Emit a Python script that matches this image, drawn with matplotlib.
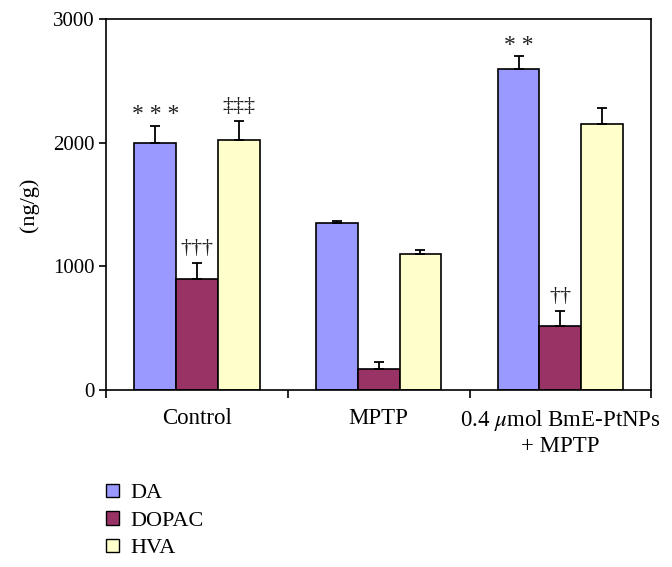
import numpy as np
import matplotlib
matplotlib.use("Agg")
import matplotlib.pyplot as plt
from matplotlib.patches import Patch

plt.rcParams["font.family"] = ["Liberation Serif", "DejaVu Serif"]
plt.rcParams["mathtext.fontset"] = "stix"

# data
groups = ["Control", "MPTP", "0.4 $\\mu$mol BmE-PtNPs\n+ MPTP"]
series = ["DA", "DOPAC", "HVA"]
da = [2000, 1355, 2600]
dopac = [900, 170, 520]
hva = [2025, 1105, 2155]
da_err = [140, 15, 100]
dopac_err = [125, 60, 120]
hva_err = [155, 30, 125]
marks = {("DA", 0): "* * *", ("DOPAC", 0): "†††", ("HVA", 0): "‡‡‡",
         ("DA", 2): "* *", ("DOPAC", 2): "††"}

colors = ["#9999ff", "#993366", "#ffffcc"]
values = [da, dopac, hva]
errors = [da_err, dopac_err, hva_err]

fig = plt.figure(figsize=(6.72, 5.67), dpi=100)
ax = fig.add_axes([0.158, 0.312, 0.811, 0.654])

x = np.arange(len(groups))
w = 0.23
for i, (name, vals, errs, c) in enumerate(zip(series, values, errors, colors)):
    pos = x + (i - 1) * w
    ax.bar(pos, vals, w, color=c, edgecolor="black", linewidth=1.2, zorder=2)
    ax.errorbar(pos, vals, yerr=[np.zeros(len(errs)), errs], fmt="none",
                ecolor="black", elinewidth=1.3, capsize=3.5, capthick=1.3, zorder=3)
    for j in range(len(groups)):
        if (name, j) in marks:
            txt = marks[(name, j)]
            star = txt.startswith("*")
            ax.text(pos[j], vals[j] + errs[j] + (5 if star else 40), txt,
                    ha="center", va="bottom", fontsize=17 if star else 16,
                    color="#222222")

ax.set_xlim(-0.5, 2.5)
ax.set_ylim(0, 3000)
ax.set_yticks([0, 1000, 2000, 3000])
ax.set_xticks(x)
ax.set_xticklabels(groups, fontsize=16.5, linespacing=1.15)
ax.set_xticks([-0.5, 0.5, 1.5, 2.5], minor=True)
ax.tick_params(axis="x", which="major", length=0, pad=13)
ax.tick_params(axis="x", which="minor", length=6, width=1.2, direction="out")
ax.tick_params(axis="y", labelsize=15, length=5, width=1.2, direction="out")
for s in ax.spines.values():
    s.set_linewidth(1.2)
ax.set_ylabel("(ng/g)", fontsize=16, labelpad=10)

handles = [Patch(facecolor=c, edgecolor="black", linewidth=1.0) for c in colors]
fig.legend(handles, series, loc="lower left", bbox_to_anchor=(0.145, 0.0),
           frameon=False, fontsize=16, handlelength=0.55, handleheight=0.55,
           handletextpad=0.55, labelspacing=0.35, borderaxespad=0.0)

fig.savefig("out.png", dpi=100)
